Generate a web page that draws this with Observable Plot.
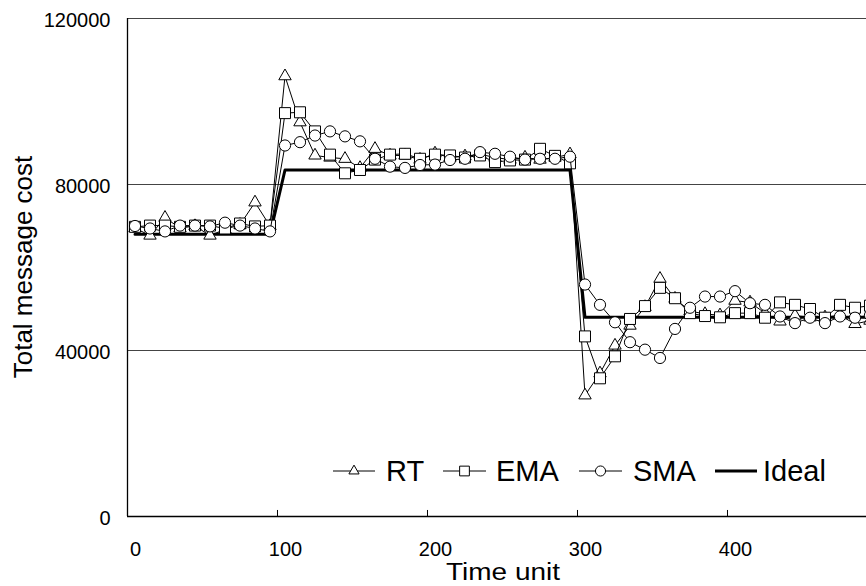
<!DOCTYPE html>
<html><head><meta charset="utf-8">
<script src="https://cdn.jsdelivr.net/npm/d3@7"></script>
<script src="https://cdn.jsdelivr.net/npm/@observablehq/plot@0.6"></script>
<style>
body{margin:0;background:#fff;overflow:hidden}
#chart svg{overflow:hidden;display:block}
</style>
</head><body><div id="chart"></div>
<script>
const time = [5,15,25,35,45,55,65,75,85,95,
  105,115,125,135,145,155,165,175,185,195,
  205,215,225,235,245,255,265,275,285,295,
  305,315,325,335,345,355,365,375,385,395,
  405,415,425,435,445,455,465,475,485,495];
const rt = [69500,67700,72000,69500,70000,67700,69200,70300,75700,70000,
  106100,95000,87000,86500,86200,84000,88600,87000,87000,86000,
  87500,86500,86800,87300,86500,86000,86500,86000,86500,87300,
  29200,34500,41200,46000,50500,57300,52500,49500,48800,48500,
  52000,51600,49000,47000,48400,48000,48000,48500,46400,47200];
const ema = [69800,70100,70100,69800,70100,70100,69400,70600,69900,70100,
  97200,97400,92800,87200,82700,83500,86000,87200,87400,86200,
  87200,87000,86500,87000,85400,85800,86000,88600,86900,85100,
  43400,33300,38600,47600,50700,55100,52600,49000,48300,48000,
  49000,49000,47900,51600,51000,50000,47900,51000,50300,50800];
const sma = [70000,69400,68700,70100,70100,69900,70800,70100,69400,68700,
  89400,90200,91800,92800,91600,90400,86200,84300,84000,84700,
  84800,85900,86200,87800,87400,86700,86000,86200,86200,86700,
  55900,51000,46800,42000,40200,38200,45200,50300,53000,53000,
  54300,51400,51000,48200,46600,47900,46600,48200,47900,48500];
const ideal = [68000,68000,68000,68000,68000,68000,68000,68000,68000,68000,
  83500,83500,83500,83500,83500,83500,83500,83500,83500,83500,
  83500,83500,83500,83500,83500,83500,83500,83500,83500,83500,
  48000,48000,48000,48000,48000,48000,48000,48000,48000,48000,
  48000,48000,48000,48000,48000,48000,48000,48000,48000,48000];
const seriesNames = ["RT","EMA","SMA","Ideal"];
const xTicks = [0,100,200,300,400];
const yTicks = [0,40000,80000,120000];
const gridValues = [40000,80000,120000];

const rows = (vals) => time.map((t,i) => ({t, v: vals[i]}));
const font = "'Liberation Sans', Arial, Helvetica, sans-serif";

const plot = Plot.plot({
  width: 866, height: 586,
  marginLeft: 127, marginRight: 0, marginTop: 18, marginBottom: 70,
  style: {fontFamily: font, background: "white", color: "black"},
  x: {domain: [0, 492.67]},
  y: {domain: [0, 120000]},
  marks: [
    Plot.ruleY(gridValues, {stroke: "#444", strokeWidth: 1}),
    Plot.ruleY([0], {stroke: "black", strokeWidth: 1.3}),
    Plot.ruleX([0], {stroke: "black", strokeWidth: 1.3}),
    Plot.ruleX(xTicks.slice(1), {y1: 0, y2: 1450, stroke: "black"}),
    Plot.axisX({ticks: xTicks, tickSize: 0, tickPadding: 25, dx: 8, fontSize: 20, label: null, tickFormat: d => String(d)}),
    Plot.axisY({ticks: yTicks, tickSize: 0, tickPadding: 17, dy: 2, fontSize: 20, label: null, tickFormat: d => String(d)}),
    Plot.line(rows(ideal), {x: "t", y: "v", stroke: "black", strokeWidth: 3}),
    Plot.line(rows(rt), {x: "t", y: "v", stroke: "black", strokeWidth: 1}),
    Plot.dot(rows(rt), {x: "t", y: "v", symbol: "triangle", r: 4.6, fill: "white", stroke: "black", strokeWidth: 1}),
    Plot.line(rows(ema), {x: "t", y: "v", stroke: "black", strokeWidth: 1}),
    Plot.dot(rows(ema), {x: "t", y: "v", symbol: "square", r: 6.2, fill: "white", stroke: "black", strokeWidth: 1}),
    Plot.line(rows(sma), {x: "t", y: "v", stroke: "black", strokeWidth: 1}),
    Plot.dot(rows(sma), {x: "t", y: "v", symbol: "circle", r: 5.6, fill: "white", stroke: "black", strokeWidth: 1})
  ]
});

const svg = d3.select(plot);
// axis titles
svg.append("text")
  .attr("transform", "translate(32,267) rotate(-90)")
  .attr("text-anchor", "middle")
  .attr("font-family", font).attr("font-size", 26)
  .text("Total message cost");
svg.append("text")
  .attr("x", 503).attr("y", 580)
  .attr("text-anchor", "middle")
  .attr("font-family", font).attr("font-size", 23)
  .attr("textLength", 114).attr("lengthAdjust", "spacingAndGlyphs")
  .text("Time unit");

// legend
const legend = [
  {name: seriesNames[0], x1: 333, x2: 375, tx: 386, sym: d3.symbolTriangle, size: 45},
  {name: seriesNames[1], x1: 443, x2: 486, tx: 496, sym: d3.symbolSquare, size: 95},
  {name: seriesNames[2], x1: 579, x2: 622, tx: 633, sym: d3.symbolCircle, size: 80},
  {name: seriesNames[3], x1: 715, x2: 757, tx: 763, sym: null, size: 0}
];
const ly = 471;
const lg = svg.append("g").attr("text-anchor", "start");
for (const it of legend) {
  lg.append("line").attr("x1", it.x1).attr("x2", it.x2).attr("y1", ly).attr("y2", ly)
    .attr("stroke", "black").attr("stroke-width", it.sym ? 1 : 3);
  if (it.sym) {
    lg.append("path").attr("d", d3.symbol(it.sym, it.size)())
      .attr("transform", `translate(${(it.x1 + it.x2) / 2},${ly})`)
      .attr("fill", "white").attr("stroke", "black");
  }
  lg.append("text").attr("x", it.tx).attr("y", 481)
    .attr("text-anchor", "start")
    .attr("font-family", font).attr("font-size", 29)
    .text(it.name);
}

document.getElementById("chart").appendChild(plot);
</script>
</body></html>
